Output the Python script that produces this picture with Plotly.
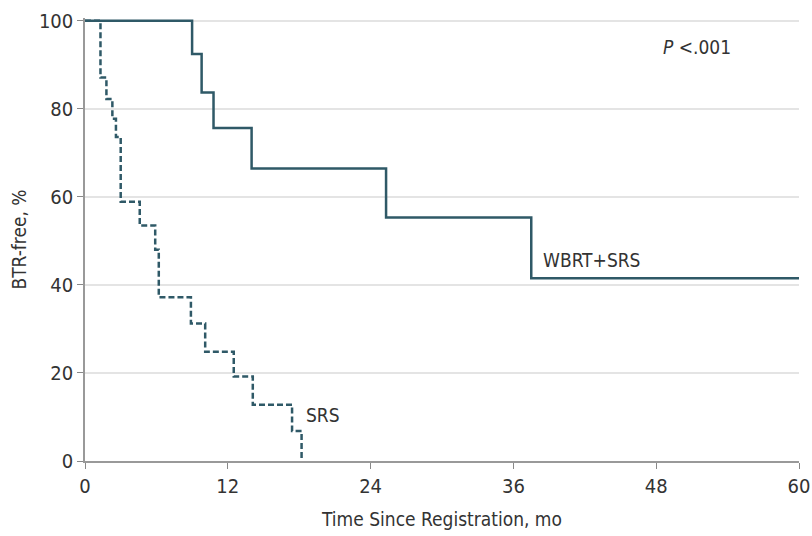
import plotly.graph_objects as go

# Kaplan-Meier step data
wbrt_time = [0, 9.0, 9.8, 10.8, 14.0, 25.3, 37.5, 60]
wbrt_surv = [100, 92.4, 83.7, 75.6, 66.4, 55.3, 41.5, 41.5]

srs_time = [0, 1.3, 1.8, 2.3, 2.6, 3.0, 4.6, 5.9, 6.2, 8.9, 10.1, 12.5, 14.1, 17.4, 18.2]
srs_surv = [100, 87.1, 82.2, 77.7, 73.6, 58.9, 53.5, 48.0, 37.2, 31.2, 24.8, 19.2, 12.8, 6.8, 0]

x_ticks = [0, 12, 24, 36, 48, 60]
y_ticks = [0, 20, 40, 60, 80, 100]

line_color = "#2f5967"
text_color = "#333333"
font_family = "Liberation Sans Narrow, DejaVu Sans Condensed, Roboto, sans-serif"

fig = go.Figure()
fig.add_trace(go.Scatter(x=srs_time, y=srs_surv, mode="lines", line_shape="hv",
                         line=dict(color=line_color, width=2.5, dash="6px,3px"),
                         name="SRS", showlegend=False))
fig.add_trace(go.Scatter(x=wbrt_time, y=wbrt_surv, mode="lines", line_shape="hv",
                         line=dict(color=line_color, width=2.5),
                         name="WBRT+SRS", showlegend=False))

fig.add_annotation(x=38.3, y=45.6, text="WBRT+SRS", showarrow=False,
                   xanchor="left", yanchor="middle", font=dict(size=19, color=text_color))
fig.add_annotation(x=18.4, y=10.4, text="SRS", showarrow=False,
                   xanchor="left", yanchor="middle", font=dict(size=19, color=text_color))
fig.add_annotation(x=48.4, y=94.0, text="<i>P</i> <.001", showarrow=False,
                   xanchor="left", yanchor="middle", font=dict(size=19, color=text_color))

fig.update_layout(
    width=812, height=536,
    margin=dict(l=85, r=13, t=18, b=75),
    paper_bgcolor="white", plot_bgcolor="white",
    font=dict(family=font_family, size=19, color=text_color),
    xaxis=dict(range=[0, 60], tickvals=x_ticks, ticks="outside", ticklen=6,
               tickcolor="#888888", showline=True, linecolor="#999999", linewidth=1.5,
               showgrid=False, zeroline=False, automargin=False,
               title=dict(text="Time Since Registration, mo", standoff=16,
                          font=dict(size=19)),
               tickfont=dict(size=20)),
    yaxis=dict(range=[0, 100.6], tickvals=y_ticks, ticks="outside", ticklen=6,
               tickcolor="#888888", showline=True, linecolor="#999999", linewidth=1.5,
               showgrid=True, gridcolor="#e4e4e4", gridwidth=1.5, zeroline=False,
               automargin=False,
               title=dict(text="BTR-free, %", standoff=7, font=dict(size=19)),
               tickfont=dict(size=20)),
)

fig.write_html("out.html",
               config={"displayModeBar": False},
               post_script="document.body.style.margin='0';document.body.style.overflow='hidden';")
